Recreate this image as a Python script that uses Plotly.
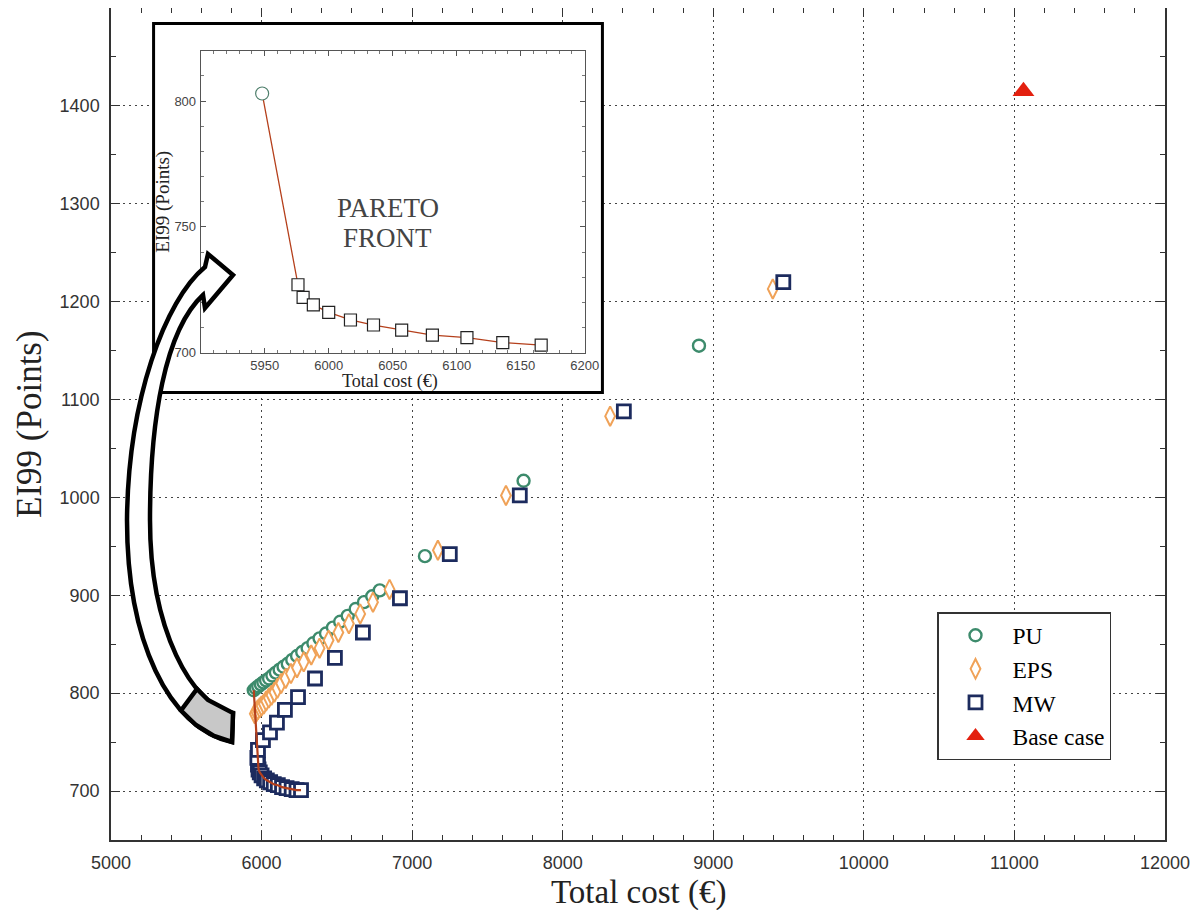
import plotly.graph_objects as go

# ---------------- data ----------------
pu_cost = [5948, 5962, 5978, 5995, 6012, 6030, 6050, 6072, 6095, 6120, 6146, 6174, 6204,
           6236, 6270, 6306, 6344, 6385, 6428, 6474, 6522, 6572, 6625, 6680, 6735, 6785,
           7085, 7740, 8905]
pu_ei99 = [803, 805, 807, 809, 811, 813, 815, 818, 821, 824, 827, 830, 834,
           838, 842, 846, 851, 856, 861, 867, 873, 879, 886, 893, 899, 905,
           940, 1017, 1155]

eps_cost = [5955, 5965, 5975, 5988, 6000, 6015, 6030, 6048, 6066, 6085, 6105, 6130, 6160,
            6195, 6235, 6280, 6330, 6385, 6445, 6510, 6580, 6655, 6740, 6850,
            7171, 7623, 8315, 9395]
eps_ei99 = [779, 781, 783, 785, 787, 789, 792, 795, 798, 801, 805, 810, 815,
            820, 826, 832, 839, 846, 854, 862, 871, 881, 893, 906,
            946, 1002, 1083, 1213]

mw_cost = [5976, 5980, 5988, 6000, 6017, 6035, 6057, 6081, 6108, 6136, 6166, 6200, 6232, 6262,
           5972, 5976, 6009, 6056, 6102, 6155, 6242, 6355, 6487, 6673, 6919, 7250, 7715, 8406, 9465]
mw_ei99 = [727, 722, 719, 716, 713, 711, 709, 707, 706, 704, 703, 702, 701, 701,
           734, 742, 752, 760, 770, 783, 796, 815, 836, 862, 897, 942, 1002, 1088, 1220]

base_cost = [11060]
base_ei99 = [1415]

# Pareto front (inset)
pareto_cost = [5948, 5976, 5980, 5988, 6000, 6017, 6035, 6057, 6081, 6108, 6136, 6166]
pareto_ei99 = [803, 727, 722, 719, 716, 713, 711, 709, 707, 706, 704, 703]
# continuation of the front in the main chart
front_tail_cost = [6200, 6232, 6262]
front_tail_ei99 = [702, 701, 701]

main_xticks = [5000, 6000, 7000, 8000, 9000, 10000, 11000, 12000]
main_yticks = [700, 800, 900, 1000, 1100, 1200, 1300, 1400]
inset_xticks = [5950, 6000, 6050, 6100, 6150, 6200]
inset_yticks = [700, 750, 800]

# ---------------- styling ----------------
# the page body has an 8px margin; work in page pixels and shift
OFF = 8
W, H = 1203 - OFF, 910 - OFF
PL, PR, PT, PB = 111, 1165, 8, 840          # plot area in page pixels
L, T = PL - OFF, PT - OFF
R, B = W - (PR - OFF), H - (PB - OFF)
PW, PH = PR - PL, PB - PT

GREEN = "#3d8b6c"
ORANGE = "#f0a258"
NAVY = "#1c2b5e"
RED_LINE = "#b5401c"
RED = "#e3200f"
SERIF = "Liberation Serif"
SANS = "Liberation Sans"


def fx(x):
    return (x - PL) / PW


def fy(y):
    return (PB - y) / PH


def px(x, y):
    return f"{fx(x):.5f},{fy(y):.5f}"


def dom_x(a, b):
    return [fx(a), fx(b)]


def dom_y(top, bottom):
    return [fy(bottom), fy(top)]


fig = go.Figure()

fig.add_trace(go.Scatter(x=pu_cost, y=pu_ei99, mode="markers", name="PU",
                         legendgroup="a",
                         marker=dict(symbol="circle", size=12, color="white",
                                     line=dict(color=GREEN, width=2.4))))
fig.add_trace(go.Scatter(x=eps_cost, y=eps_ei99, mode="markers", name="EPS",
                         legendgroup="b",
                         marker=dict(symbol="diamond-tall", size=14, color="white",
                                     line=dict(color=ORANGE, width=2))))
fig.add_trace(go.Scatter(x=mw_cost, y=mw_ei99, mode="markers", name="MW",
                         legendgroup="c",
                         marker=dict(symbol="square", size=13, color="white",
                                     line=dict(color=NAVY, width=2.8))))
fig.add_trace(go.Scatter(x=base_cost, y=base_ei99, mode="markers", name="Base case",
                         legendgroup="d",
                         marker=dict(symbol="triangle-up", size=19, color=RED,
                                     line=dict(width=0))))
fig.add_trace(go.Scatter(x=pareto_cost + front_tail_cost, y=pareto_ei99 + front_tail_ei99,
                         mode="lines", showlegend=False,
                         line=dict(color=RED_LINE, width=2.2)))

# inset frame (white box covering the main grid)
fig.add_trace(go.Scatter(x=[0.0035, 0.9965, 0.9965, 0.0035, 0.0035],
                         y=[0.004, 0.004, 0.996, 0.996, 0.004],
                         mode="lines", fill="toself", fillcolor="white",
                         line=dict(color="black", width=3),
                         showlegend=False, hoverinfo="skip",
                         xaxis="x2", yaxis="y2"))

# inset data
fig.add_trace(go.Scatter(x=pareto_cost, y=pareto_ei99, mode="lines", showlegend=False,
                         line=dict(color=RED_LINE, width=1.3),
                         xaxis="x3", yaxis="y3", hoverinfo="skip"))
fig.add_trace(go.Scatter(x=pareto_cost[:1], y=pareto_ei99[:1], mode="markers", showlegend=False,
                         marker=dict(symbol="circle", size=13, color="white",
                                     line=dict(color="#4f7f6c", width=1.2)),
                         xaxis="x3", yaxis="y3"))
fig.add_trace(go.Scatter(x=pareto_cost[1:], y=pareto_ei99[1:], mode="markers", showlegend=False,
                         marker=dict(symbol="square", size=12, color="white",
                                     line=dict(color="#222222", width=1.2)),
                         xaxis="x3", yaxis="y3"))

axis_common = dict(showline=True, linecolor="#333333", linewidth=1.5, mirror="ticks",
                   ticks="inside", ticklen=9, tickwidth=1.3, tickcolor="#333333",
                   showgrid=True, gridcolor="#444444", gridwidth=1.4, griddash="2px,4px",
                   zeroline=False, tickfont=dict(family=SANS, size=18, color="#333333"),
                   ticklabelstandoff=6)

fig.update_layout(
    width=W, height=H,
    margin=dict(l=L, r=R, t=T, b=B, autoexpand=False),
    paper_bgcolor="white", plot_bgcolor="white",
    showlegend=True,
    xaxis=dict(range=[5000, 12000], tickmode="array", tickvals=main_xticks, tickformat="d",
               minor=dict(tickmode="linear", tick0=5000, dtick=200, ticks="inside",
                          ticklen=5, tickcolor="#333333", showgrid=False),
               **axis_common),
    yaxis=dict(range=[650, 1500], tickmode="array", tickvals=main_yticks, tickformat="d",
               minor=dict(tickmode="linear", tick0=0, dtick=50, ticks="inside",
                          ticklen=5, tickcolor="#333333", showgrid=False),
               **axis_common),
    xaxis2=dict(domain=dom_x(152, 604), range=[0, 1], visible=False, anchor="y2",
                fixedrange=True),
    yaxis2=dict(domain=dom_y(22, 394), range=[0, 1], visible=False, anchor="x2",
                fixedrange=True),
    xaxis3=dict(domain=dom_x(200.7, 584.7), range=[5900, 6200], anchor="y3",
                tickmode="array", tickvals=inset_xticks, tickformat="d",
                showline=True, linecolor="#555555", linewidth=1, mirror="ticks",
                ticks="inside", ticklen=5, tickcolor="#555555", showgrid=False, zeroline=False,
                minor=dict(tickmode="linear", tick0=5900, dtick=10, ticks="inside",
                           ticklen=3, tickcolor="#777777"),
                tickfont=dict(family=SANS, size=13, color="#444444"), ticklabelstandoff=1),
    yaxis3=dict(domain=dom_y(50.7, 352.7), range=[700, 820], anchor="x3",
                tickmode="array", tickvals=inset_yticks, tickformat="d",
                showline=True, linecolor="#555555", linewidth=1, mirror="ticks",
                ticks="inside", ticklen=5, tickcolor="#555555", showgrid=False, zeroline=False,
                minor=dict(tickmode="linear", tick0=700, dtick=10, ticks="inside",
                           ticklen=3, tickcolor="#777777"),
                tickfont=dict(family=SANS, size=13, color="#444444"), ticklabelstandoff=1),
    legend=dict(x=fx(937), y=fy(612), xanchor="left", yanchor="top",
                bgcolor="white", bordercolor="#333333", borderwidth=1.5,
                font=dict(family=SERIF, size=23.5, color="black"),
                traceorder="grouped", tracegroupgap=0, itemwidth=64),
)

# axis titles
fig.add_annotation(text="Total cost (€)", xref="paper", yref="paper",
                   x=fx(638), y=fy(892), xanchor="center", yanchor="middle",
                   showarrow=False, font=dict(family=SERIF, size=33, color="#222222"))
fig.add_annotation(text="EI99 (Points)", xref="paper", yref="paper", textangle=-90,
                   x=fx(29), y=fy(424), xanchor="center", yanchor="middle",
                   showarrow=False, font=dict(family=SERIF, size=35, color="#222222"))
# inset titles
fig.add_annotation(text="Total cost (€)", xref="paper", yref="paper",
                   x=fx(390), y=fy(382), xanchor="center", yanchor="middle",
                   showarrow=False, font=dict(family=SERIF, size=18, color="#222222"))
fig.add_annotation(text="EI99 (Points)", xref="paper", yref="paper", textangle=-90,
                   x=fx(163), y=fy(201.7), xanchor="center", yanchor="middle",
                   showarrow=False, font=dict(family=SERIF, size=19, color="#222222"))
fig.add_annotation(text="PARETO", xref="x3", yref="y3", x=6046, y=757.4,
                   xanchor="center", yanchor="middle", showarrow=False,
                   font=dict(family=SERIF, size=27, color="#444444"))
fig.add_annotation(text="FRONT", xref="x3", yref="y3", x=6046, y=745.5,
                   xanchor="center", yanchor="middle", showarrow=False,
                   font=dict(family=SERIF, size=27, color="#444444"))

# curved arrow (decoration), page-pixel outline
arrow_path = ("M" + px(205, 267) +
              " C" + px(165, 300) + " " + px(128, 400) + " " + px(127, 520) +
              " C" + px(127, 640) + " " + px(168, 728) + " " + px(232, 742) +
              " L" + px(233, 713) +
              " C" + px(192, 706) + " " + px(150, 630) + " " + px(150, 520) +
              " C" + px(150, 420) + " " + px(165, 330) + " " + px(203, 295) +
              " L" + px(205, 308) +
              " L" + px(233, 275) +
              " L" + px(208, 254) + " Z")
fig.add_shape(type="path", path=arrow_path, xref="paper", yref="paper",
              fillcolor="white", line=dict(color="black", width=4.5), layer="above")
tail_path = ("M" + px(181, 710.5) + " L" + px(196, 725) + " L" + px(214, 736) +
             " L" + px(232, 742) + " L" + px(233, 713) + " L" + px(208, 700) +
             " L" + px(197, 689) + " Z")
fig.add_shape(type="path", path=tail_path, xref="paper", yref="paper",
              fillcolor="#c8c8c8", line=dict(color="black", width=4.5), layer="above")

fig.write_html("out.html")
